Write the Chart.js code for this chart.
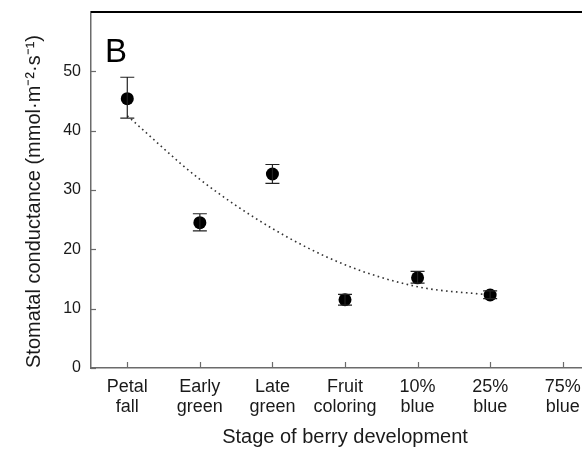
<!DOCTYPE html>
<html>
<head>
<meta charset="utf-8">
<script src="https://cdn.jsdelivr.net/npm/chart.js@4"></script>
<style>
  html, body { margin: 0; padding: 0; overflow: hidden; background: #fff; }
  #wrap { position: relative; width: 615px; height: 449px; }
</style>
</head>
<body>
<div id="wrap"><canvas id="chart" width="615" height="449"></canvas></div>
<script>
// stages of berry development (last one is cut off at the right edge)
const stages = [
  ["Petal", "fall"], ["Early", "green"], ["Late", "green"], ["Fruit", "coloring"],
  ["10%", "blue"], ["25%", "blue"], ["75%", "blue"]
];
// mean stomatal conductance and error bar ends
const meanValues = [45.4, 24.5, 32.7, 11.5, 15.2, 12.3, null];
const errLow = [42.1, 23.1, 31.1, 10.6, 14.3, 11.7, null];
const errHigh = [49.0, 26.0, 34.3, 12.4, 16.3, 13.0, null];
// dotted fitted trend, read at each stage
const trendValues = [42.5, 31.8, 23.5, 17.4, 13.7, 12.3, null];
const yTicks = [0, 10, 20, 30, 40, 50];

const font = "'Liberation Sans', Arial, Helvetica, sans-serif";
const axisColor = "#6b6b6b";
const textColor = "#1a1a1a";

// error bars, inward tick marks, top frame line and panel letter
const decorations = {
  id: "decorations",
  afterDatasetsDraw(chart) {
    const ctx = chart.ctx;
    const x = chart.scales.x;
    const y = chart.scales.y;
    const area = chart.chartArea;
    ctx.save();

    // error bars
    ctx.strokeStyle = "#222";
    ctx.lineWidth = 1.2;
    meanValues.forEach((v, i) => {
      if (v === null) return;
      const px = x.getPixelForValue(i);
      const top = y.getPixelForValue(errHigh[i]);
      const bot = y.getPixelForValue(errLow[i]);
      ctx.beginPath();
      ctx.moveTo(px, top); ctx.lineTo(px, bot);
      ctx.moveTo(px - 7, top); ctx.lineTo(px + 7, top);
      ctx.moveTo(px - 7, bot); ctx.lineTo(px + 7, bot);
      ctx.stroke();
    });

    // tick marks pointing into the plot
    ctx.strokeStyle = axisColor;
    ctx.lineWidth = 1.2;
    yTicks.forEach((t) => {
      const py = Math.round(y.getPixelForValue(t)) + 0.5;
      ctx.beginPath();
      ctx.moveTo(area.left, py); ctx.lineTo(area.left + 5, py);
      ctx.stroke();
    });
    stages.forEach((s, i) => {
      const px = Math.round(x.getPixelForValue(i)) + 0.5;
      ctx.beginPath();
      ctx.moveTo(px, area.bottom); ctx.lineTo(px, area.bottom - 6);
      ctx.stroke();
    });

    // top frame line
    ctx.strokeStyle = "#000";
    ctx.lineWidth = 2;
    ctx.beginPath();
    ctx.moveTo(area.left, area.top); ctx.lineTo(chart.width, area.top);
    ctx.stroke();

    // panel letter
    ctx.fillStyle = "#000";
    ctx.font = "33px " + font;
    ctx.textBaseline = "alphabetic";
    ctx.fillText("B", 105, 62);
    ctx.restore();
  }
};

new Chart(document.getElementById("chart"), {
  type: "line",
  data: {
    labels: stages,
    datasets: [
      {
        label: "Trend",
        data: trendValues,
        borderColor: "#333",
        borderWidth: 1.6,
        borderDash: [1.6, 3.4],
        pointRadius: 0,
        cubicInterpolationMode: "monotone",
        fill: false,
        order: 2
      },
      {
        label: "Stomatal conductance",
        data: meanValues,
        showLine: false,
        pointRadius: 6.5,
        pointBackgroundColor: "#000",
        pointBorderColor: "#000",
        pointBorderWidth: 0,
        order: 1
      }
    ]
  },
  options: {
    responsive: false,
    animation: false,
    layout: { padding: { left: 0, top: 12, right: 16, bottom: 0 } },
    plugins: {
      legend: { display: false },
      tooltip: { enabled: false }
    },
    scales: {
      x: {
        offset: true,
        grid: { display: false, drawTicks: false },
        border: { display: true, color: axisColor, width: 1.5 },
        ticks: {
          color: textColor,
          padding: 9,
          maxRotation: 0,
          autoSkip: false,
          font: { family: font, size: 18, lineHeight: 1.1 }
        },
        title: {
          display: true,
          text: "Stage of berry development",
          color: textColor,
          font: { family: font, size: 20, lineHeight: 1.2 },
          padding: { top: 0, bottom: 0 }
        },
        afterFit(scale) { scale.height = 81; scale.paddingLeft = 0; scale.paddingRight = 0; }
      },
      y: {
        min: 0,
        max: 60,
        grid: { display: false, drawTicks: false },
        border: { display: true, color: axisColor, width: 1.5 },
        afterBuildTicks(scale) { scale.ticks = yTicks.map((v) => ({ value: v })); },
        ticks: {
          color: textColor,
          padding: 10,
          font: { family: font, size: 16 }
        },
        title: {
          display: true,
          text: "Stomatal conductance (mmol·m⁻²·s⁻¹)",
          color: textColor,
          align: "start",
          font: { family: font, size: 20, lineHeight: 1.2 },
          padding: { top: 22, bottom: 0 }
        },
        afterFit(scale) { scale.width = 91; scale.paddingTop = 0; scale.paddingBottom = 0; }
      }
    }
  },
  plugins: [decorations]
});
</script>
</body>
</html>
